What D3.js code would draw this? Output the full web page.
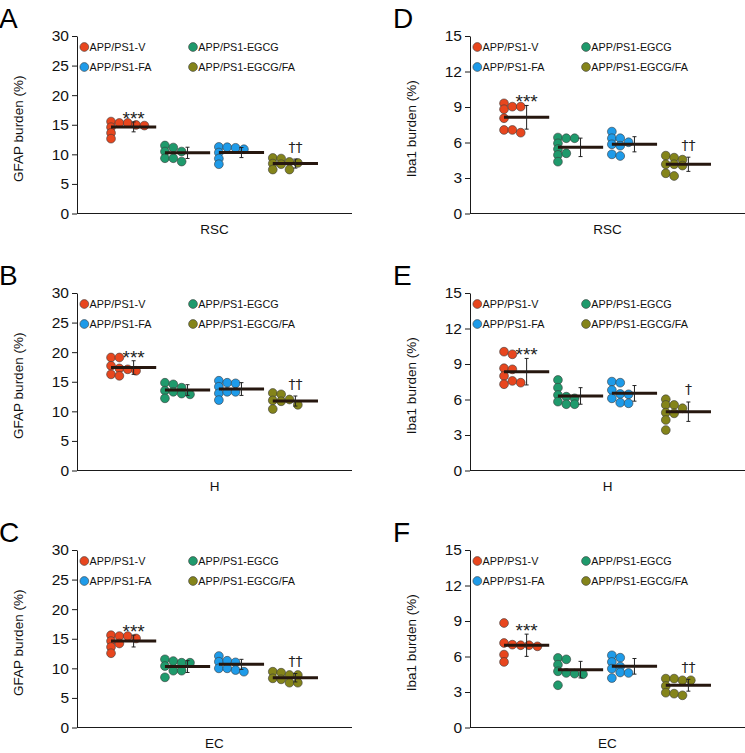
<!DOCTYPE html>
<html><head><meta charset="utf-8">
<script src="https://cdn.jsdelivr.net/npm/d3@7"></script>
<style>body{margin:0;background:#fff}svg{display:block;font-family:Arial,"Liberation Sans",sans-serif}</style>
</head><body><svg id="c" width="745" height="753"></svg>
<script>
// ---------- data ----------
const groupNames = ["APP/PS1-V","APP/PS1-EGCG","APP/PS1-FA","APP/PS1-EGCG/FA"];
const groupColors = ["#e8461e","#1f9a6c","#1e9be9","#84841a"];
const regions = ["RSC","H","EC"];
const gfapTicks = [0,5,10,15,20,25,30];
const iba1Ticks = [0,3,6,9,12,15];
const panelLetters = ["A","B","C","D","E","F"];
const starLabels = ["***","***","***","***","***","***"];
const daggerLabels = ["††","††","††","††","†","††"];

// GFAP burden (%) — individual animals per group (V, EGCG, FA, EGCG/FA)
const gfapRSC = [[15.54,14.58,13.62,12.65,15.3,15.3,14.97,14.86],[11.49,10.47,9.34,11.15,9.34,10.47,8.78],[11.25,10.3,9.29,8.33,11.2,11.1,10.86],[9.39,8.44,7.43,9.29,8.33,8.72,7.43,8.55]];
const gfapRSCMean = [14.64,10.25,10.3,8.44];
const gfapRSCErr = [0.84,0.95,0.85,0.76];

const gfapH = [[19.1,17.7,16.25,19.1,17.26,16.0,17.1,16.86],[14.83,13.5,12.2,14.56,13.3,14.0,13.0,12.87],[15.17,14.16,13.04,11.9,14.83,13.3,14.73,13.3],[13.1,11.85,10.39,12.87,11.7,12.0,11.1]];
const gfapHMean = [17.4,13.6,13.77,11.74];
const gfapHErr = [1.15,0.9,1.08,0.85];

const gfapEC = [[15.6,14.6,13.6,12.55,15.45,14.2,15.45,15.05],[11.52,10.39,8.48,11.23,9.6,10.95,9.6,10.95],[12.08,11.12,10.0,11.28,10.0,11.01,9.71,9.43],[9.43,8.31,9.26,8.14,8.87,7.57,8.87,7.57]];
const gfapECMean = [14.61,10.3,10.67,8.41];
const gfapECErr = [1.0,1.0,0.85,0.71];

// Iba1 burden (%)
const iba1RSC = [[9.31,8.81,8.05,7.06,9.03,7.06,9.03,6.83],[6.42,5.93,5.45,4.95,4.38,6.36,5.09,6.36],[6.92,6.36,5.85,5.0,6.36,5.73,4.86,6.02],[4.89,4.16,3.4,4.72,4.16,3.17,4.55,4.05]];
const iba1RSCMean = [8.13,5.59,5.85,4.16];
const iba1RSCErr = [1.0,0.78,0.64,0.6];

const iba1H = [[10.04,8.64,7.99,7.29,9.82,8.55,7.57,7.42],[7.65,7.0,6.38,5.82,6.24,5.6,6.1,5.6],[7.51,6.8,6.1,7.42,6.47,5.73,6.44,5.68],[6.02,5.54,4.89,4.27,3.42,5.54,4.83,5.26]];
const iba1HMean = [8.35,6.3,6.52,4.97];
const iba1HErr = [1.12,0.7,0.66,0.82];

const iba1EC = [[8.83,7.14,6.16,5.54,7.0,6.95,6.95,6.86],[5.88,5.31,4.75,3.57,5.76,4.61,4.55,4.5],[6.1,5.54,4.97,4.18,5.9,5.15,4.65,4.61],[4.13,3.51,2.94,4.13,2.86,3.99,2.72,3.99]];
const iba1ECMean = [6.95,4.89,5.17,3.57];
const iba1ECErr = [0.94,0.7,0.66,0.5];

// ---------- panel table ----------
const panels = [
  {col:0,row:0,title:"GFAP burden (%)",ticks:gfapTicks,vals:gfapRSC,means:gfapRSCMean,errs:gfapRSCErr},
  {col:0,row:1,title:"GFAP burden (%)",ticks:gfapTicks,vals:gfapH,means:gfapHMean,errs:gfapHErr},
  {col:0,row:2,title:"GFAP burden (%)",ticks:gfapTicks,vals:gfapEC,means:gfapECMean,errs:gfapECErr},
  {col:1,row:0,title:"Iba1 burden (%)",ticks:iba1Ticks,vals:iba1RSC,means:iba1RSCMean,errs:iba1RSCErr},
  {col:1,row:1,title:"Iba1 burden (%)",ticks:iba1Ticks,vals:iba1H,means:iba1HMean,errs:iba1HErr},
  {col:1,row:2,title:"Iba1 burden (%)",ticks:iba1Ticks,vals:iba1EC,means:iba1ECMean,errs:iba1ECErr}
];

// ---------- drawing ----------
const svg = d3.select("#c");
const W = 275, H = 177.5;
const colX = [77, 470], rowY = [36, 293, 550];
const R = 4.4, colStep = 8.35, halfLine = 22.6, minGap = 5.5;

function placeDots(vals, y) {
  const cols = [];
  return vals.map(v => {
    const py = y(v);
    let c = 0;
    while (cols[c] && cols[c].some(q => Math.abs(q - py) < minGap)) c++;
    (cols[c] = cols[c] || []).push(py);
    return {v, c};
  });
}

panels.forEach((p, pi) => {
  const x0 = colX[p.col], y0 = rowY[p.row];
  const g = svg.append("g").attr("transform", `translate(${x0},${y0})`);
  const y = d3.scaleLinear().domain([0, d3.max(p.ticks)]).range([H, 0]);
  const x = d3.scalePoint().domain(d3.range(groupNames.length)).range([0, W]).padding(1.05);

  // panel letter
  svg.append("text").attr("x", p.col ? 393 : -1).attr("y", y0 - 8)
    .attr("font-size", 28).attr("fill", "#000").text(panelLetters[pi]);

  // y axis
  const ax = g.append("g").call(d3.axisLeft(y).tickValues(p.ticks).tickSize(5).tickSizeOuter(0).tickPadding(3));
  ax.select(".domain").attr("stroke", "#1a1a1a");
  ax.selectAll(".tick line").attr("stroke", "#1a1a1a");
  ax.selectAll(".tick text").attr("font-size", 15.5).attr("fill", "#111")
    .attr("font-family", 'Arial,"Liberation Sans",sans-serif');
  // x axis line
  g.append("line").attr("x1", 0).attr("x2", W).attr("y1", H).attr("y2", H).attr("stroke", "#1a1a1a");

  // axis titles
  g.append("text").attr("transform", `translate(${-54},${H / 2 + 4}) rotate(-90)`)
    .attr("text-anchor", "middle").attr("font-size", 13.5).attr("fill", "#111").text(p.title);
  g.append("text").attr("x", W / 2).attr("y", H + 20.5).attr("text-anchor", "middle")
    .attr("font-size", 13.5).attr("fill", "#111").text(regions[p.row]);

  // legend
  const leg = g.append("g");
  groupNames.forEach((name, i) => {
    const lx = (i % 2) ? 116 : 7.3, ly = (i < 2) ? 11 : 31;
    leg.append("circle").attr("cx", lx).attr("cy", ly).attr("r", R)
      .attr("fill", groupColors[i]).attr("stroke", "#3a3a3a").attr("stroke-width", 0.6);
    leg.append("text").attr("x", lx + 5.3).attr("y", ly + 3.8).attr("font-size", 10.8)
      .attr("fill", "#111").text(name);
  });

  // dots, means, error bars
  p.vals.forEach((vals, gi) => {
    const cx = x(gi);
    const pts = placeDots(vals, y);
    g.append("g").selectAll("circle").data(pts).join("circle")
      .attr("cx", d => cx - halfLine + d.c * colStep).attr("cy", d => y(d.v)).attr("r", R)
      .attr("fill", groupColors[gi]).attr("stroke", "#3a3a3a").attr("stroke-width", 0.6);
    const m = p.means[gi], e = p.errs[gi];
    g.append("line").attr("x1", cx - halfLine).attr("x2", cx + halfLine)
      .attr("y1", y(m)).attr("y2", y(m)).attr("stroke", "#26170f").attr("stroke-width", 3);
    const eb = g.append("g").attr("stroke", "#222").attr("stroke-width", 1);
    eb.append("line").attr("x1", cx).attr("x2", cx).attr("y1", y(m + e)).attr("y2", y(m - e));
    eb.append("line").attr("x1", cx - 2).attr("x2", cx + 2).attr("y1", y(m + e)).attr("y2", y(m + e));
    eb.append("line").attr("x1", cx - 2).attr("x2", cx + 2).attr("y1", y(m - e)).attr("y2", y(m - e));
  });

  // significance marks
  const last = groupNames.length - 1;
  g.append("text").attr("x", x(0)).attr("y", y(p.means[0] + p.errs[0]) + 3)
    .attr("text-anchor", "middle").attr("font-size", 19).attr("fill", "#222").text(starLabels[pi]);
  g.append("text").attr("x", x(last)).attr("y", y(p.means[last] + p.errs[last]) - 7.5)
    .attr("text-anchor", "middle").attr("font-size", 14).attr("fill", "#222")
    .attr("font-family", '"DejaVu Sans",sans-serif').text(daggerLabels[pi]);
});
</script></body></html>
